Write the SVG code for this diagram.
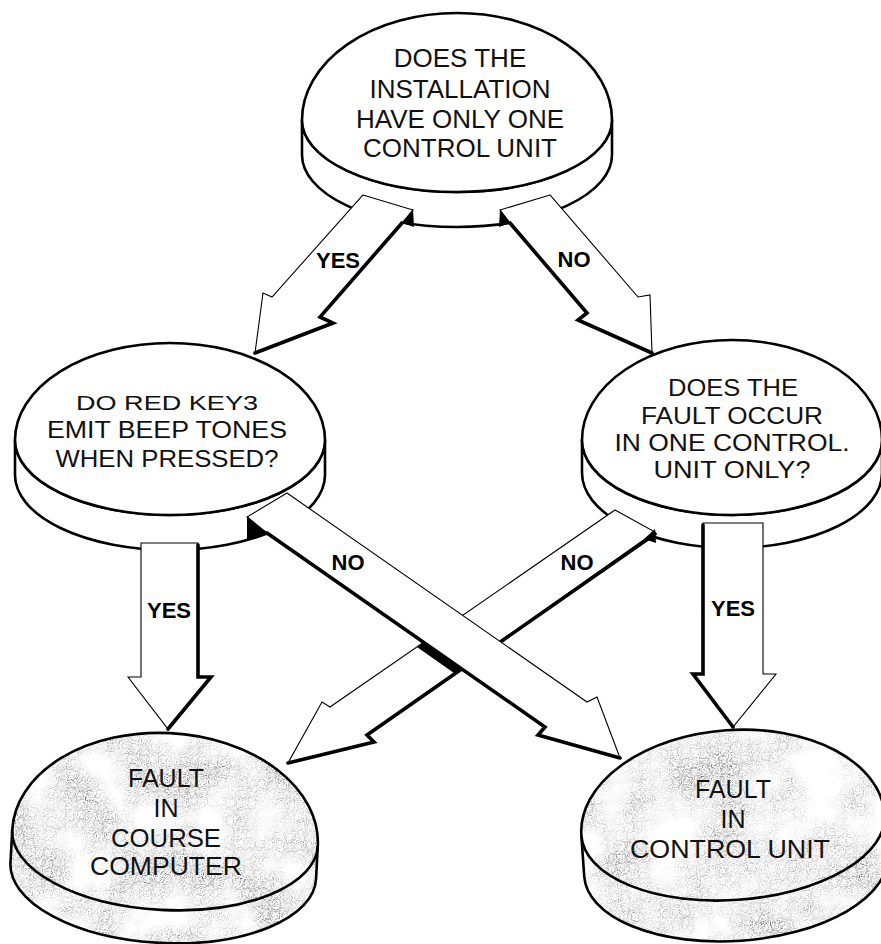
<svg xmlns="http://www.w3.org/2000/svg" width="881" height="944" viewBox="0 0 881 944">
<style>
.disc{fill:#fff;stroke:#000;stroke-width:2.6;stroke-linejoin:round}
.fillonly{fill:#fff;stroke:none}
.outline{fill:none;stroke:#000;stroke-width:2.6;stroke-linejoin:round}
.t{font-family:"Liberation Sans",Arial,Helvetica,sans-serif;fill:#111;text-anchor:middle}
.lbl{font-family:"Liberation Sans",Arial,Helvetica,sans-serif;font-weight:bold;font-size:22px;fill:#000;text-anchor:middle}
.arr{fill:#fff;stroke:#000;stroke-width:1.1;stroke-linejoin:miter}
.thick{fill:none;stroke:#000;stroke-width:3.6;stroke-linejoin:miter;stroke-linecap:round}
.blk{fill:#000;stroke:none}
</style>
<defs>
<filter id="grain" x="-5%" y="-5%" width="110%" height="110%" color-interpolation-filters="sRGB">
  <feTurbulence type="fractalNoise" baseFrequency="0.9" numOctaves="1" seed="2" result="fine"/>
  <feTurbulence type="fractalNoise" baseFrequency="0.02" numOctaves="3" seed="5" result="coarse"/>
  <feColorMatrix in="fine" type="matrix" values="0 0 0 0 0.35  0 0 0 0 0.35  0 0 0 0 0.35  4 0 0 0 -1.9" result="fineA"/>
  <feColorMatrix in="coarse" type="matrix" values="0 0 0 0 0  0 0 0 0 0  0 0 0 0 0  2.2 0 0 0 -0.65" result="coarseA"/>
  <feComposite in="fineA" in2="coarseA" operator="in" result="dots"/>
  <feComposite in="dots" in2="SourceGraphic" operator="in" result="clip"/>
  <feMerge><feMergeNode in="SourceGraphic"/><feMergeNode in="clip"/></feMerge>
</filter>
</defs>
<rect width="881" height="944" fill="#fff"/>

<!-- Top disc -->
<g id="q1">
  <path class="disc" d="M302,120 V155 A155,72 0 0 0 612,155 V120 A155,72 0 0 1 302,120 Z"/>
  <path class="disc" d="M302,120 A155,107 0 0 1 612,120 A155,72 0 0 1 302,120 Z"/>
  <text class="t" font-size="26" x="460" y="67">DOES THE</text>
  <text class="t" font-size="26" x="460" y="98">INSTALLATION</text>
  <text class="t" font-size="26" x="460" y="128">HAVE ONLY ONE</text>
  <text class="t" font-size="26" x="460" y="157">CONTROL UNIT</text>
</g>

<!-- Middle-left disc -->
<g id="q2">
  <path class="disc" d="M15,440 V475 A155,75 0 0 0 325,475 V440 A155,75 0 0 1 15,440 Z"/>
  <path class="disc" d="M15,440 A155,97 0 0 1 325,440 A155,75 0 0 1 15,440 Z"/>
  <text class="t" font-size="21" x="167" y="410" textLength="182" lengthAdjust="spacingAndGlyphs">DO RED KEY3</text>
  <text class="t" font-size="24" x="167" y="438" textLength="240" lengthAdjust="spacingAndGlyphs">EMIT BEEP TONES</text>
  <text class="t" font-size="24" x="167" y="467" textLength="223" lengthAdjust="spacingAndGlyphs">WHEN PRESSED?</text>
</g>

<!-- Middle-right disc -->
<g id="q3">
  <path class="disc" d="M582,440 V473 A150,75 0 0 0 882,473 V440 A150,75 0 0 1 582,440 Z"/>
  <path class="disc" d="M582,440 A150,100 0 0 1 882,440 A150,75 0 0 1 582,440 Z"/>
  <text class="t" font-size="24" x="733" y="396" textLength="130" lengthAdjust="spacingAndGlyphs">DOES THE</text>
  <text class="t" font-size="24" x="732" y="424" textLength="182" lengthAdjust="spacingAndGlyphs">FAULT OCCUR</text>
  <text class="t" font-size="23" x="732" y="451" textLength="235" lengthAdjust="spacingAndGlyphs">IN ONE CONTROL.</text>
  <text class="t" font-size="23" x="732" y="478" textLength="157" lengthAdjust="spacingAndGlyphs">UNIT ONLY?</text>
</g>

<!-- Bottom-left disc -->
<g id="r1">
  <g transform="rotate(3 165 838)">
    <g filter="url(#grain)">
      <path class="fillonly" d="M12,838 V871 A153,72 0 0 0 318,871 V838 A153,72 0 0 1 12,838 Z"/>
      <path class="fillonly" d="M12,838 A153,105 0 0 1 318,838 A153,72 0 0 1 12,838 Z"/>
    </g>
    <path class="outline" d="M12,838 V871 A153,72 0 0 0 318,871 V838"/>
    <path class="outline" d="M12,838 A153,105 0 0 1 318,838 A153,72 0 0 1 12,838 Z"/>
  </g>
  <text class="t" font-size="25" x="166" y="787">FAULT</text>
  <text class="t" font-size="25" x="166" y="817">IN</text>
  <text class="t" font-size="25" x="166" y="847" textLength="110" lengthAdjust="spacingAndGlyphs">COURSE</text>
  <text class="t" font-size="25" x="166" y="875" textLength="152" lengthAdjust="spacingAndGlyphs">COMPUTER</text>
</g>

<!-- Bottom-right disc -->
<g id="r2">
  <g transform="rotate(-4 733 825)">
    <g filter="url(#grain)">
      <path class="fillonly" d="M581,825 V866 A152,75 0 0 0 885,866 V825 A152,75 0 0 1 581,825 Z"/>
      <path class="fillonly" d="M581,825 A152,95 0 0 1 885,825 A152,75 0 0 1 581,825 Z"/>
    </g>
    <path class="outline" d="M581,825 V866 A152,75 0 0 0 885,866 V825"/>
    <path class="outline" d="M581,825 A152,95 0 0 1 885,825 A152,75 0 0 1 581,825 Z"/>
  </g>
  <text class="t" font-size="25" x="733" y="798">FAULT</text>
  <text class="t" font-size="25" x="733" y="828">IN</text>
  <text class="t" font-size="25" x="730" y="858" textLength="200" lengthAdjust="spacingAndGlyphs">CONTROL UNIT</text>
</g>

<!-- Connectors -->
<g id="connectors">
  <g id="c-q1-q2">
    <polygon class="arr" points="363,195 413,210 402,223 320,317 333,323 255,353 263,293 272,297"/>
    <polyline class="thick" points="402,223 320,317 333,323 255,353"/>
    <polygon class="blk" points="413,209 402,223 414,227"/>
    <text class="lbl" x="338" y="268">YES</text>
  </g>
  <g id="c-q1-q3">
    <polygon class="arr" points="550,195 500,210 510,223 587,313 578,320 652,353 650,295 638,297"/>
    <polyline class="thick" points="510,223 587,313 578,320 652,353"/>
    <polygon class="blk" points="500,209 510,223 499,227"/>
    <text class="lbl" x="574" y="267">NO</text>
  </g>
  <g id="c-q2-r1">
    <polygon class="arr" points="141,543 198,543 198,677 211,677 168,729 128,677 141,677"/>
    <polyline class="thick" points="198,545 198,677 211,677 168,729"/>
    <text class="lbl" x="169" y="618">YES</text>
  </g>
  <g id="c-q3-r2">
    <polygon class="arr" points="703,523 763,523 763,674 776,674 733,727 693,674 703,674"/>
    <polyline class="thick" points="703,525 703,674 693,674 733,727"/>
    <text class="lbl" x="733" y="616">YES</text>
  </g>
  <g id="c-q3-r1">
    <polygon class="arr" points="615,510 655,532 367,735 374,742 288,763 322,702 330,707"/>
    <polyline class="thick" points="655,534 367,735 374,742 288,763"/>
    <polygon class="blk" points="655,529 644,539 656,543"/>
    <text class="lbl" x="577" y="570">NO</text>
  </g>
  <g id="c-q2-r2">
    <polygon class="arr" points="287,493 247,517 267,533 545,727 538,735 620,758 597,697 587,702"/>
    <polyline class="thick" points="267,533 545,727 538,735 620,758"/>
    <polygon class="blk" points="247,516 267,533 247,541"/>
    <polygon class="blk" points="423.6,642.3 461.3,668.6 454.7,673.5 417,647"/>
    <text class="lbl" x="348" y="570">NO</text>
  </g>
</g>
</svg>
